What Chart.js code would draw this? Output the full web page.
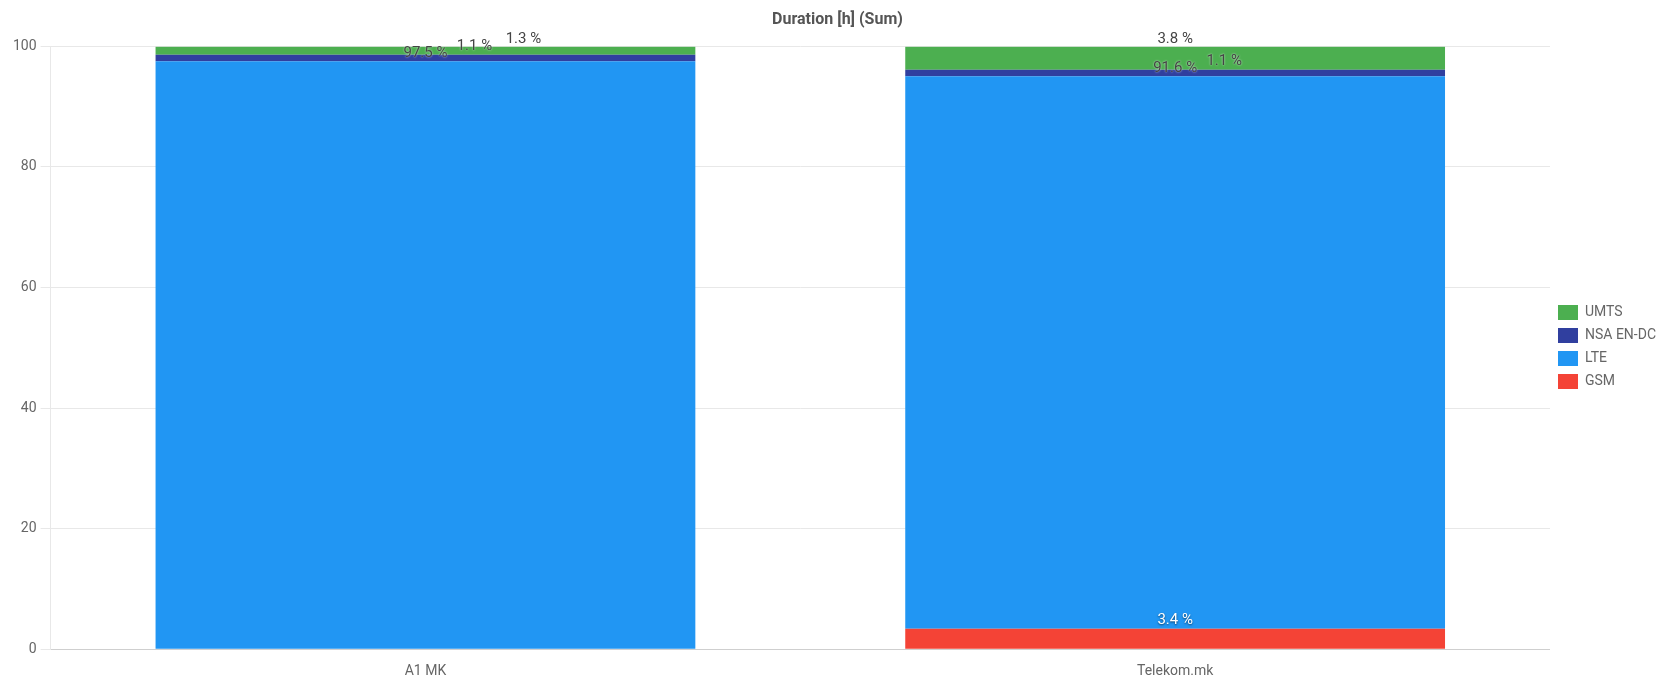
<!DOCTYPE html>
<html>
<head>
<meta charset="utf-8">
<script src="https://cdn.jsdelivr.net/npm/chart.js@4"></script>
<style>
    html, body { margin: 0; padding: 0; background: #fff; }
    #wrap { width: 1676px; height: 677px; position: relative; }
</style>
</head>
<body>
<div id="wrap"><canvas id="durationChart"></canvas></div>
<script>
// Dados do gráfico (percentagem da duração por tecnologia)
const operators = ['A1 MK', 'Telekom.mk'];
const gsm = [0, 3.4];
const lte = [97.5, 91.6];
const nsaEnDc = [1.1, 1.1];
const umts = [1.3, 3.8];
const yTicks = [0, 20, 40, 60, 80, 100];

const FONT = 'Roboto';

// Rótulos "x.x %" no topo de cada segmento, empurrados para a direita quando colidem
const stackLabels = {
    id: 'stackLabels',
    afterDatasetsDraw(chart) {
        const ctx = chart.ctx;
        ctx.save();
        ctx.font = '15px ' + FONT;
        ctx.textAlign = 'center';
        ctx.textBaseline = 'middle';
        operators.forEach((op, i) => {
            const placed = [];
            chart.data.datasets.forEach((ds, d) => {
                const v = ds.data[i];
                if (!v) return;
                const bar = chart.getDatasetMeta(d).data[i];
                const text = v.toFixed(1) + ' %';
                const w = ctx.measureText(text).width;
                const y = bar.y - 8;
                let x = bar.x;
                while (placed.some(p => Math.abs(p.x - x) < (p.w + w) / 2 && Math.abs(p.y - y) < 16)) x += 49;
                placed.push({ x, y, w });
                if (ds.labelColor === '#fff') {
                    ctx.shadowColor = 'rgba(0,0,0,0.6)';
                    ctx.shadowBlur = 2;
                    ctx.shadowOffsetY = 1;
                } else {
                    ctx.shadowColor = 'rgba(255,255,255,0.8)';
                    ctx.shadowBlur = 2;
                    ctx.shadowOffsetY = 0;
                }
                ctx.fillStyle = ds.labelColor;
                ctx.fillText(text, x, y);
            });
        });
        ctx.restore();
    }
};

new Chart(document.getElementById('durationChart'), {
    type: 'bar',
    data: {
        labels: operators,
        datasets: [
            { label: 'GSM', data: gsm, backgroundColor: '#F44336', labelColor: '#fff' },
            { label: 'LTE', data: lte, backgroundColor: '#2196F3', labelColor: '#444' },
            { label: 'NSA EN-DC', data: nsaEnDc, backgroundColor: '#303F9F', labelColor: '#444' },
            { label: 'UMTS', data: umts, backgroundColor: '#4CAF50', labelColor: '#444' }
        ]
    },
    options: {
        responsive: true,
        maintainAspectRatio: false,
        animation: false,
        categoryPercentage: 0.72,
        barPercentage: 1,
        // o eixo x reserva 2x o padding dos ticks; o bottom negativo compensa
        layout: { padding: { left: 9, right: 10, top: 0, bottom: -17 } },
        scales: {
            x: {
                stacked: true,
                grid: { display: false, drawTicks: false },
                border: { display: true, color: '#cfcfcf' },
                ticks: { color: '#666', padding: 14, font: { family: FONT, size: 14 } }
            },
            y: {
                stacked: true,
                min: 0,
                max: 100,
                afterBuildTicks: axis => { axis.ticks = yTicks.map(v => ({ value: v })); },
                grid: { color: '#e8e8e8', tickLength: 10 },
                border: { color: '#e8e8e8' },
                ticks: { color: '#666', padding: 4, font: { family: FONT, size: 14 } }
            }
        },
        plugins: {
            title: {
                display: true,
                text: 'Duration [h] (Sum)',
                color: '#555',
                font: { family: FONT, size: 16, weight: 'bold' },
                padding: { top: 10, bottom: 17 }
            },
            legend: {
                position: 'right',
                reverse: true,
                labels: {
                    boxWidth: 20,
                    boxHeight: 15,
                    padding: 8,
                    color: '#666',
                    font: { family: FONT, size: 14 }
                }
            },
            tooltip: { enabled: false }
        }
    },
    plugins: [stackLabels]
});
</script>
</body>
</html>
